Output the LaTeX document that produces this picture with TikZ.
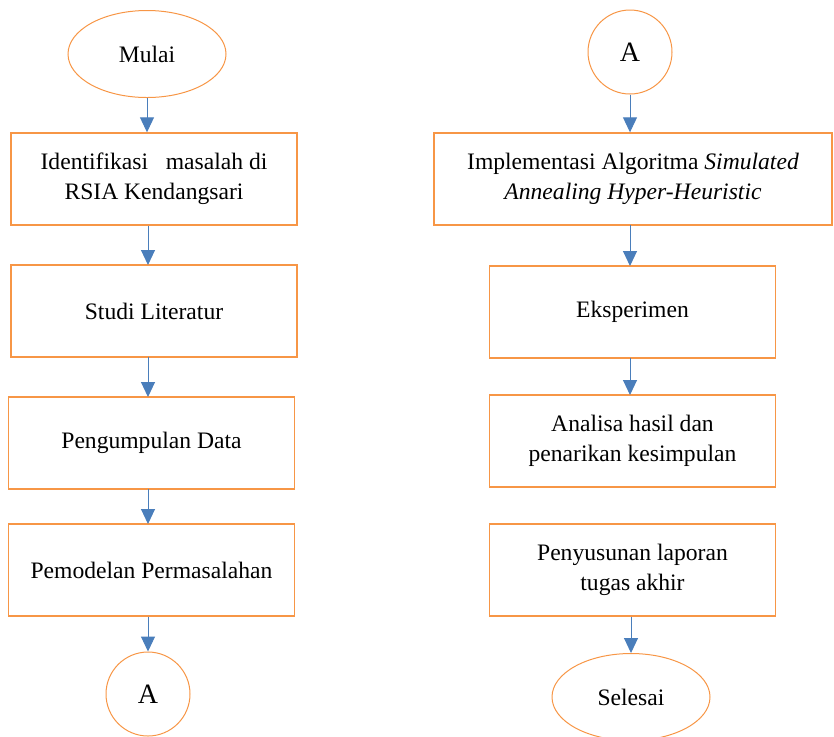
\documentclass[tikz,border=0pt]{standalone}
\usepackage{fontspec}
\setmainfont{Liberation Serif}
\usepackage{tikz}
\usetikzlibrary{shapes.geometric,arrows.meta}
\definecolor{oranye}{HTML}{F79646}
\definecolor{biru}{HTML}{4A7EBB}
\tikzset{
  langkah/.style={draw=oranye, line width=0.7pt, minimum width=143pt, minimum height=46pt, align=center, font=\fontsize{11.8}{15}\selectfont},
  terminal/.style={ellipse, draw=oranye, line width=0.5pt, minimum width=79pt, minimum height=43.5pt, font=\fontsize{11.8}{14}\selectfont},
  konektor/.style={circle, draw=oranye, line width=0.5pt, minimum size=42pt, inner sep=0pt, font=\fontsize{14}{16}\selectfont},
  panah/.style={draw=biru, line width=0.5pt, -{Triangle[width=7pt,length=7.5pt]}}
}
\begin{document}
\begin{tikzpicture}[x=0.5pt,y=-0.5pt]
    \useasboundingbox (0,0) rectangle (834,736);

    % kolom kiri
    \node[terminal] (mulai) at (147,54) {Mulai};
    \node[langkah] (identifikasi) at (154,179) {Identifikasi\ \ \ masalah di\\RSIA Kendangsari};
    \node[langkah] (studi) at (154,311) {Studi Literatur};
    \node[langkah] (pengumpulan) at (151.5,443) {Pengumpulan Data};
    \node[langkah] (pemodelan) at (151.5,570) {Pemodelan Permasalahan};
    \node[konektor] (konA) at (148,694) {A};

    % kolom kanan
    \node[konektor] (konB) at (630,52) {A};
    \node[langkah, minimum width=199pt] (implementasi) at (633,179) {Implementasi Algoritma \textit{Simulated}\\\textit{Annealing Hyper-Heuristic}};
    \node[langkah] (eksperimen) at (632.5,312) {Eksperimen};
    \node[langkah] (analisa) at (632.5,441) {Analisa hasil dan\\penarikan kesimpulan};
    \node[langkah] (penyusunan) at (632.5,570) {Penyusunan laporan\\tugas akhir};
    \node[terminal] (selesai) at (631,697) {Selesai};

    % panah
    \draw[panah] (mulai.south) -- (mulai.south |- identifikasi.north);
    \draw[panah] (148,226) -- (148,265);
    \draw[panah] (148,357) -- (148,397);
    \draw[panah] (148,489) -- (148,524);
    \draw[panah] (konA.north |- pemodelan.south) -- (konA.north);
    \draw[panah] (konB.south) -- (konB.south |- implementasi.north);
    \draw[panah] (630,225) -- (630,266);
    \draw[panah] (630,358) -- (630,395);
    \draw[panah] (selesai.north |- penyusunan.south) -- (selesai.north);
\end{tikzpicture}
\end{document}
